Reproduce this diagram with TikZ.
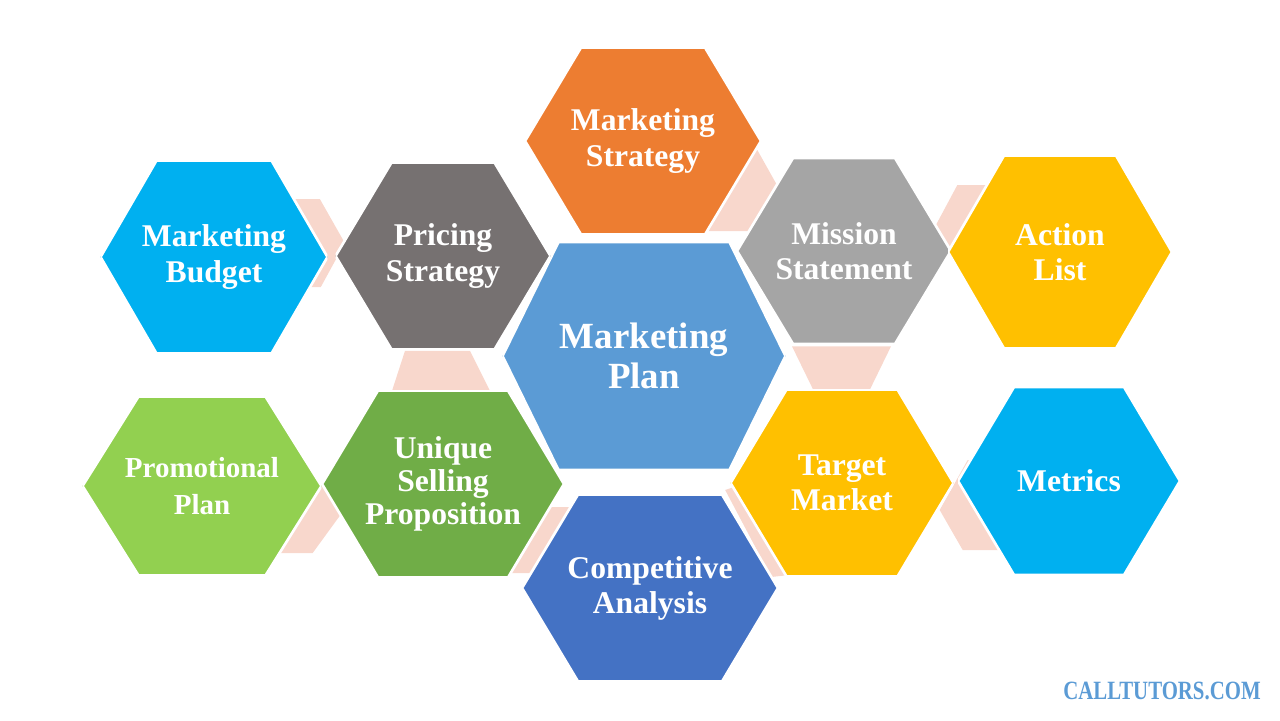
\documentclass[tikz,border=0pt]{standalone}
\usepackage{fontspec}
\setmainfont{Liberation Serif}
\usepackage{xcolor}
\definecolor{hexcyan}{HTML}{00B0F0}
\definecolor{hexslate}{HTML}{767171}
\definecolor{hexorange}{HTML}{ED7D31}
\definecolor{hexsky}{HTML}{5B9BD5}
\definecolor{hexsilver}{HTML}{A5A5A5}
\definecolor{hexgold}{HTML}{FFC000}
\definecolor{hexlime}{HTML}{92D050}
\definecolor{hexgreen}{HTML}{70AD47}
\definecolor{hexblue}{HTML}{4472C4}
\definecolor{linkpink}{RGB}{248,215,204}
\usepackage{tikz}
\usetikzlibrary{positioning, calc, backgrounds}

\newcommand{\hexfont}{\bfseries\fontsize{18}{20}\selectfont}

\begin{document}
\begin{tikzpicture}[x=0.02cm, y=-0.02cm,
        hexa/.style={rectangle, inner sep=0pt, align=center, text=white, font=\hexfont,
            path picture={\fill[#1, draw=white, line width=1.5pt]
                (path picture bounding box.west)
                -- ([xshift=1.12cm]path picture bounding box.north west)
                -- ([xshift=-1.12cm]path picture bounding box.north east)
                -- (path picture bounding box.east)
                -- ([xshift=-1.12cm]path picture bounding box.south east)
                -- ([xshift=1.12cm]path picture bounding box.south west) -- cycle;}},
        link/.style={fill=linkpink},
        brand/.style={text=hexsky, font=\bfseries\fontsize{15}{16}\selectfont, xscale=0.79, inner sep=0pt}]

        \useasboundingbox (0,0) rectangle (1280,720);

        % hexagons
        \node [hexa=hexsky, minimum width=5.66cm, minimum height=4.56cm, font=\bfseries\fontsize{21}{23}\selectfont] (plan) at (644,356) {Marketing\\Plan};
        \node [hexa=hexorange, minimum width=4.72cm, minimum height=3.74cm] (strategy) at (643,141) {Marketing\\Strategy};
        \node [hexa=hexslate, minimum width=4.30cm, minimum height=3.74cm] (pricing) at (443,256) {Pricing\\Strategy};
        \node [hexa=hexcyan, minimum width=4.54cm, minimum height=3.86cm] (budget) at (214,257) {Marketing\\Budget};
        \node [hexa=hexsilver, minimum width=4.28cm, minimum height=3.72cm] (mission) at (844,251) {Mission\\Statement};
        \node [hexa=hexgold, minimum width=4.48cm, minimum height=3.86cm] (action) at (1060,252) {Action\\List};
        \node [hexa=hexlime, minimum width=4.78cm, minimum height=3.58cm, font=\bfseries\fontsize{16.5}{21}\selectfont] (promo) at (202,486) {Promotional\\Plan};
        \node [hexa=hexgreen, minimum width=4.84cm, minimum height=3.74cm, font=\bfseries\fontsize{18}{19}\selectfont] (usp) at (443,484) {Unique\\Selling\\Proposition};
        \node [hexa=hexblue, minimum width=5.12cm, minimum height=3.74cm] (compet) at (650,588) {Competitive\\Analysis};
        \node [hexa=hexgold, minimum width=4.46cm, minimum height=3.74cm] (target) at (842,483) {Target\\Market};
        \node [hexa=hexcyan, minimum width=4.44cm, minimum height=3.76cm] (metrics) at (1069,481) {Metrics};

        \node [brand] (brand) at (1162,691) {CALLTUTORS.COM};

        % pale links behind the hexagons
        \begin{pgfonlayer}{background}
            \fill [link, shift={(budget.east)}] (-38,-58) -- (-8,-58) -- (17,-14) -- (-7,30) -- (-28,30) -- cycle;
            \fill [link, shift={(pricing.south)}] (-38,1) -- (27,1) -- (47,41) -- (-51,41) -- cycle;
            \fill [link, shift={(strategy.east)}] (-11,9) -- (-4,9) -- (24,59) -- (24,90) -- (-61,90) -- cycle;
            \fill [link, shift={(mission.east)}] (6,-66) -- (44,-66) -- (9,19) -- (-17,-23) -- cycle;
            \fill [link, shift={(mission.south)}] (-52,2) -- (47,2) -- (26,45) -- (-31,45) -- cycle;
            \fill [link, shift={(usp.west)}] (0,2) -- (26,21) -- (-9,69) -- (-42,69) -- cycle;
            \fill [link, shift={(usp.east)}] (-14,23) -- (16,23) -- (-24,89) -- (-54,89) -- cycle;
            \fill [link, shift={(target.west)}] (-5,7) -- (4,4) -- (59,92) -- (41,94) -- cycle;
            \fill [link, shift={(metrics.west)}] (10,-21) -- (-18,29) -- (5,69) -- (42,69) -- (42,-21) -- cycle;
        \end{pgfonlayer}
    \end{tikzpicture}
\end{document}
